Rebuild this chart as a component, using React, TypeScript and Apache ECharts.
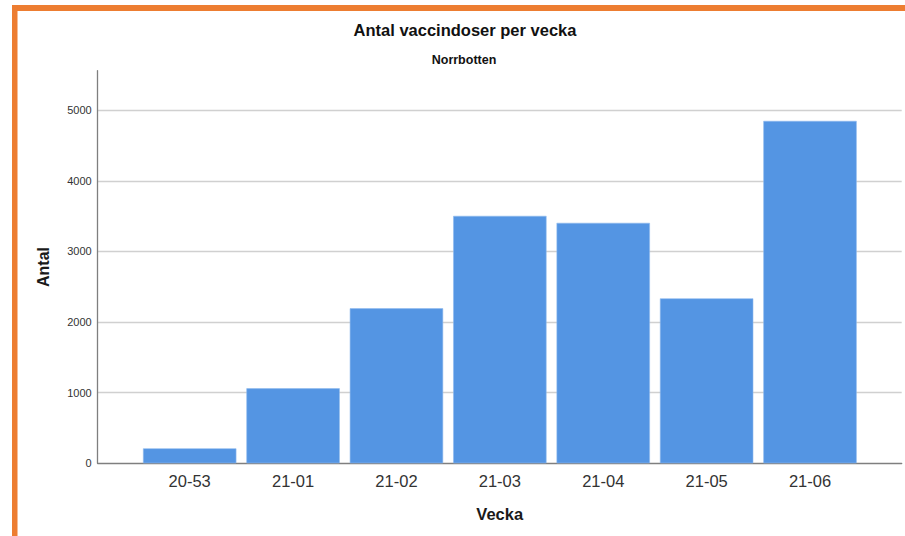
import React, { useEffect, useRef } from "react";
import * as echarts from "echarts";

const categories = ["20-53", "21-01", "21-02", "21-03", "21-04", "21-05", "21-06"];
const doses = [212, 1062, 2195, 3504, 3405, 2336, 4849];
const yMax = 5560;
const yInterval = 1000;
const titleText = "Antal vaccindoser per vecka";
const subtitleText = "Norrbotten";
const xName = "Vecka";
const yName = "Antal";

const FONT = "'Liberation Sans', Arial, sans-serif";

export default function App() {
  const ref = useRef<HTMLDivElement>(null);
  useEffect(() => {
    if (!ref.current) return;
    const chart = echarts.init(ref.current, undefined, { renderer: "svg" });
    const gTop = 70.7;
    const gBottom = 536 - 463.3;
    chart.setOption({
      animation: false,
      backgroundColor: "#ffffff",
      textStyle: { fontFamily: FONT },
      grid: [
        { left: 97.7, right: 905 - 901.7, top: gTop, bottom: gBottom, containLabel: false },
        { left: 138, right: 905 - 861.7, top: gTop, bottom: gBottom, containLabel: false },
      ],
      xAxis: [
        {
          gridIndex: 0,
          type: "value",
          min: 0,
          max: 1,
          axisLine: { show: true, onZero: false, lineStyle: { color: "#7f7f7f", width: 1.3 } },
          axisTick: { show: false },
          axisLabel: { show: false },
          splitLine: { show: false },
          name: xName,
          nameLocation: "middle",
          nameGap: 42,
          nameTextStyle: { fontFamily: FONT, fontSize: 16.5, fontWeight: "bold", color: "#1a1a1a" },
        },
        {
          gridIndex: 1,
          type: "category",
          data: categories,
          axisLine: { show: false },
          axisTick: { show: false },
          axisLabel: { fontFamily: FONT, fontSize: 16.5, color: "#333333", margin: 9 },
          splitLine: { show: false },
        },
      ],
      yAxis: [
        {
          gridIndex: 0,
          type: "value",
          min: 0,
          max: yMax,
          interval: yInterval,
          axisLine: { show: true, lineStyle: { color: "#7f7f7f", width: 1.3 } },
          axisTick: { show: false },
          axisLabel: {
            fontFamily: FONT,
            fontSize: 11,
            color: "#333333",
            margin: 6,
            showMaxLabel: false,
            formatter: (v: number) => String(v),
          },
          splitLine: { show: true, showMaxLine: false, showMinLine: false, lineStyle: { color: "#d0d0d0", width: 1.3 } },
          name: yName,
          nameLocation: "middle",
          nameGap: 46,
          nameTextStyle: { fontFamily: FONT, fontSize: 16, fontWeight: "bold", color: "#1a1a1a" },
        },
        {
          gridIndex: 1,
          type: "value",
          min: 0,
          max: yMax,
          show: false,
          splitLine: { show: false },
        },
      ],
      series: [
        {
          type: "bar",
          xAxisIndex: 1,
          yAxisIndex: 1,
          data: doses,
          barCategoryGap: "9.7%",
          itemStyle: { color: "#5495e3", borderColor: "#8fbbee", borderWidth: 0.6 },
        },
      ],
      graphic: [
        { type: "rect", shape: { x: 12, y: 5, width: 893, height: 6 }, style: { fill: "#ed7d31" }, silent: true },
        { type: "rect", shape: { x: 12, y: 5, width: 5.5, height: 531 }, style: { fill: "#ed7d31" }, silent: true },
        {
          type: "text",
          x: 465,
          y: 29.5,
          style: {
            text: titleText,
            fontFamily: FONT,
            fontSize: 16.5,
            fontWeight: "bold",
            fill: "#111111",
            textAlign: "center",
            textVerticalAlign: "middle",
          },
        },
        {
          type: "text",
          x: 464,
          y: 59.5,
          style: {
            text: subtitleText,
            fontFamily: FONT,
            fontSize: 12.5,
            fontWeight: "bold",
            fill: "#111111",
            textAlign: "center",
            textVerticalAlign: "middle",
          },
        },
      ],
    });
    return () => chart.dispose();
  }, []);
  return (
    <div
      ref={ref}
      style={{ position: "absolute", left: 0, top: 0, width: 905, height: 536 }}
    />
  );
}
